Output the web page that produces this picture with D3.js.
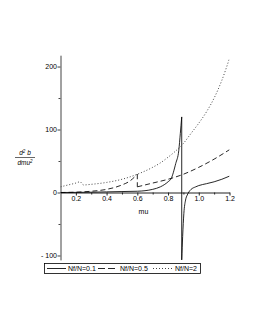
<!DOCTYPE html>
<html>
<head>
<meta charset="utf-8">
<script src="https://cdn.jsdelivr.net/npm/d3@7"></script>
<style>
  body { margin: 0; background: #fff; }
  svg { display: block; font-family: "Liberation Sans", Arial, sans-serif; }
</style>
</head>
<body>
<div class="container"></div>
<script>
// values (mu, d2b/dmu2)
var muSolid  = [0.1, 0.2, 0.3, 0.4, 0.5, 0.6, 0.7, 0.75, 0.8, 0.82, 0.85, 0.87, 0.88, 0.889,
                0.889, 0.895, 0.903, 0.914, 0.925, 0.936, 0.95, 0.98, 1.0, 1.05, 1.1, 1.15, 1.2];
var valSolid = [0, 0.2, 0.5, 1, 1.5, 2, 5, 9, 17, 22, 46, 67, 94, 120,
                -107, -70, -33, -12, -4, 1, 5, 9, 11, 14, 17, 21, 26];

var muDash  = [0.1, 0.2, 0.3, 0.4, 0.5, 0.55, 0.6, 0.6, 0.7, 0.8, 0.9, 1.0, 1.1, 1.2];
var valDash = [0, 0.5, 2, 5, 12, 18, 29, 9, 15, 21, 29, 40, 53, 68];

var muDot  = [0.1, 0.15, 0.2, 0.227, 0.25, 0.3, 0.4, 0.5, 0.6, 0.7, 0.75, 0.8, 0.85, 0.9,
              0.95, 1.0, 1.05, 1.1, 1.15, 1.2];
var valDot = [9, 12, 15, 17, 12, 13, 16, 21, 29, 40, 47, 56, 66, 78,
              94, 110, 128, 150, 178, 213];

var seriesNames = ["Nf/N=0.1", "Nf/N=0.5", "Nf/N=2"];
var xTicks = [0.2, 0.4, 0.6, 0.8, 1.0, 1.2];
var yTicks = [-100, 0, 100, 200];

var width = 253, height = 327;

var svg = d3.select('.container')
    .append('svg')
    .attr('width', width)
    .attr('height', height);

var x = d3.scaleLinear().domain([0.1, 1.2]).range([60.5, 229.5]);
var y = d3.scaleLinear().domain([-107, 218]).range([259.9, 55.2]);

svg.append('clipPath').attr('id', 'plot')
  .append('rect')
    .attr('x', x(0.1)).attr('y', y(218))
    .attr('width', x(1.2) - x(0.1)).attr('height', y(-107) - y(218));

// axes
var minorY = [-50, 50, 150];
var yAxis = d3.axisLeft(y)
    .tickValues(yTicks.concat(minorY))
    .tickSize(3).tickSizeOuter(0)
    .tickFormat(function(d) {
        if (minorY.indexOf(d) >= 0) return "";
        return d < 0 ? "- " + (-d) : d;
    });
var gy = svg.append('g').attr('transform', 'translate(' + x(0.1) + ',0)').call(yAxis);
gy.selectAll('text').attr('font-size', 7).attr('x', -3.5).attr('fill', '#000');
gy.selectAll('line, path').attr('stroke', '#444');
gy.selectAll('.tick').filter(function(d) { return minorY.indexOf(d) >= 0; })
  .select('line').attr('x2', -2);

var minorX = [0.3, 0.5, 0.7, 0.9, 1.1];
var xAxis = d3.axisBottom(x)
    .tickValues(xTicks.concat(minorX))
    .tickSize(3).tickSizeOuter(0)
    .tickFormat(function(d) { return minorX.indexOf(d) >= 0 ? "" : d3.format('.1f')(d); });
var gx = svg.append('g').attr('transform', 'translate(0,' + y(0) + ')').call(xAxis);
gx.selectAll('text').attr('font-size', 7).attr('y', 4).attr('fill', '#000');
gx.selectAll('line, path').attr('stroke', '#222');
gx.selectAll('.tick').filter(function(d) { return minorX.indexOf(d) >= 0; })
  .select('line').attr('y2', 2);

// axis titles
svg.append('text').attr('x', x(0.64)).attr('y', 214)
    .attr('text-anchor', 'middle').attr('font-size', 7).text('mu');

var yl = svg.append('g').attr('font-size', 6.5).attr('font-style', 'italic')
    .attr('text-anchor', 'middle');
var num = yl.append('text').attr('x', 25).attr('y', 155);
num.append('tspan').text('d');
num.append('tspan').attr('font-size', 4.5).attr('dy', -2.5).text('2');
num.append('tspan').attr('dy', 2.5).text(' b');
yl.append('line').attr('x1', 15).attr('x2', 35).attr('y1', 157.5).attr('y2', 157.5)
    .attr('stroke', '#000').attr('stroke-width', 0.6);
var den = yl.append('text').attr('x', 25).attr('y', 165);
den.append('tspan').text('dmu');
den.append('tspan').attr('font-size', 4.5).attr('dy', -2.5).text('2');

// curves
var styles = [
    { dash: null, width: 0.85, color: '#000' },
    { dash: '5,3', width: 0.85, color: '#000' },
    { dash: '1,2', width: 1, color: '#444' }
];

function pieces(mus, vals) {
    var out = [], cur = [];
    mus.forEach(function(m, i) {
        if (i > 0 && m <= mus[i - 1]) { out.push(cur); cur = []; }
        cur.push([m, vals[i]]);
    });
    out.push(cur);
    return out;
}

var smooth = d3.line().x(function(d) { return x(d[0]); }).y(function(d) { return y(d[1]); })
    .curve(d3.curveMonotoneX);
var straight = d3.line().x(function(d) { return x(d[0]); }).y(function(d) { return y(d[1]); });

var plot = svg.append('g').attr('clip-path', 'url(#plot)');
[[muSolid, valSolid], [muDash, valDash], [muDot, valDot]].forEach(function(s, k) {
    var ps = pieces(s[0], s[1]);
    var st = styles[k];
    var g = plot.append('g').attr('fill', 'none').attr('stroke', st.color)
        .attr('stroke-width', st.width).attr('stroke-dasharray', st.dash);
    ps.forEach(function(p, i) {
        g.append('path').attr('d', smooth(p));
        if (i > 0) {
            var prev = ps[i - 1];
            g.append('path').attr('d', straight([prev[prev.length - 1], p[0]]));
        }
    });
});

// legend
var lg = svg.append('g');
lg.append('rect').attr('x', 44.5).attr('y', 263.5).attr('width', 156).attr('height', 10)
    .attr('fill', '#fff').attr('stroke', '#000').attr('stroke-width', 0.8);
var legX = [47, 98, 153];
var textX = [68, 120, 175];
seriesNames.forEach(function(n, i) {
    lg.append('line').attr('x1', legX[i]).attr('x2', legX[i] + 19)
        .attr('y1', 268.5).attr('y2', 268.5)
        .attr('stroke', styles[i].color).attr('stroke-width', styles[i].width)
        .attr('stroke-dasharray', i === 1 ? '7,3' : styles[i].dash);
    lg.append('text').attr('x', textX[i]).attr('y', 271).attr('font-size', 7).text(n);
});
</script>
</body>
</html>
